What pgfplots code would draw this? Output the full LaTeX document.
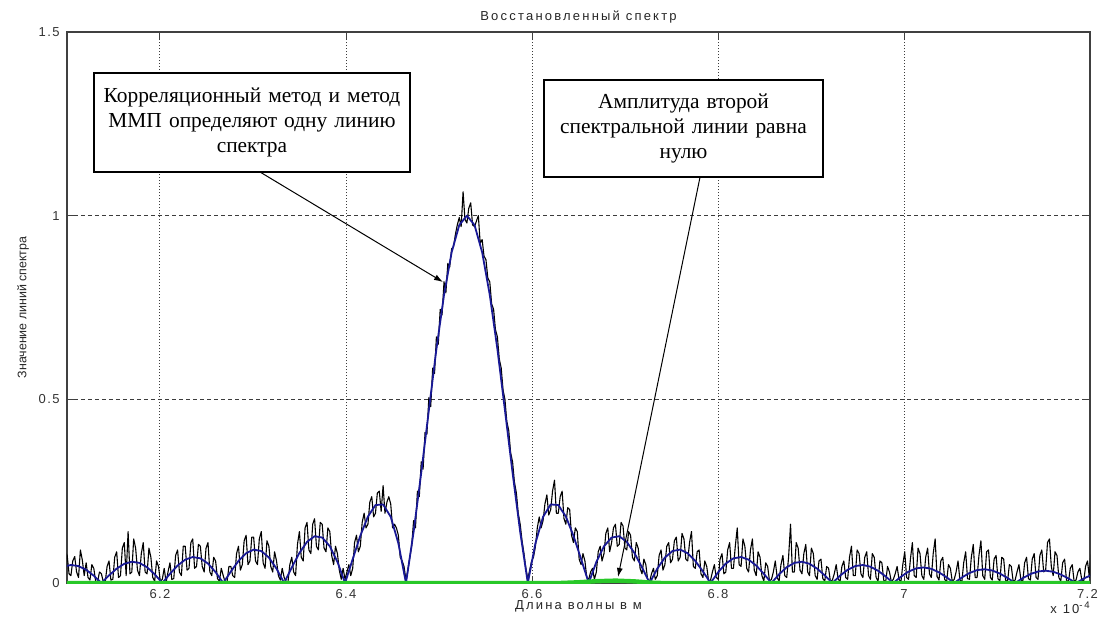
\documentclass[border=0pt]{standalone}
\usepackage{fontspec}
\setmainfont{Liberation Sans}
\newfontfamily\mfont[LetterSpace=17]{Liberation Sans}
\newfontfamily\tkfont[LetterSpace=11]{Liberation Sans}
\newfontfamily\tfont{Liberation Serif}
\usepackage{pgfplots}
\pgfplotsset{compat=1.18}
\usetikzlibrary{arrows.meta}
\definecolor{mblue}{RGB}{25,25,150}
\definecolor{mgreen}{RGB}{40,200,40}
\definecolor{mgrid}{RGB}{60,60,60}

\pgfplotstableread{
x y
6.0961 0.0444
6.1042 0.0490
6.1124 0.0461
6.1206 0.0360
6.1288 0.0199
6.1370 0.0000
6.1452 0.0207
6.1534 0.0391
6.1616 0.0523
6.1697 0.0579
6.1779 0.0547
6.1861 0.0429
6.1943 0.0238
6.2025 0.0000
6.2107 0.0250
6.2189 0.0474
6.2271 0.0636
6.2352 0.0707
6.2434 0.0672
6.2516 0.0530
6.2598 0.0295
6.2680 0.0000
6.2762 0.0314
6.2844 0.0600
6.2926 0.0811
6.3007 0.0909
6.3089 0.0871
6.3171 0.0693
6.3253 0.0390
6.3335 0.0000
6.3417 0.0424
6.3499 0.0818
6.3581 0.1120
6.3662 0.1273
6.3744 0.1238
6.3826 0.1000
6.3908 0.0573
6.3990 0.0000
6.4072 0.0650
6.4154 0.1286
6.4236 0.1810
6.4317 0.2122
6.4399 0.2139
6.4481 0.1801
6.4563 0.1083
6.4645 0.0000
6.4727 0.1392
6.4809 0.3001
6.4891 0.4705
6.4972 0.6366
6.5054 0.7842
6.5136 0.9003
6.5218 0.9745
6.5300 1.0000
6.5382 0.9745
6.5464 0.9003
6.5546 0.7842
6.5628 0.6366
6.5709 0.4705
6.5791 0.3001
6.5873 0.1392
6.5955 0.0000
6.6037 0.1083
6.6119 0.1801
6.6201 0.2139
6.6283 0.2122
6.6364 0.1810
6.6446 0.1286
6.6528 0.0650
6.6610 0.0000
6.6692 0.0573
6.6774 0.1000
6.6856 0.1238
6.6938 0.1273
6.7019 0.1120
6.7101 0.0818
6.7183 0.0424
6.7265 0.0000
6.7347 0.0390
6.7429 0.0693
6.7511 0.0871
6.7593 0.0909
6.7674 0.0811
6.7756 0.0600
6.7838 0.0314
6.7920 0.0000
6.8002 0.0295
6.8084 0.0530
6.8166 0.0672
6.8248 0.0707
6.8329 0.0636
6.8411 0.0474
6.8493 0.0250
6.8575 0.0000
6.8657 0.0238
6.8739 0.0429
6.8821 0.0547
6.8903 0.0579
6.8984 0.0523
6.9066 0.0391
6.9148 0.0207
6.9230 0.0000
6.9312 0.0199
6.9394 0.0360
6.9476 0.0461
6.9558 0.0490
6.9639 0.0444
6.9721 0.0333
6.9803 0.0177
6.9885 0.0000
6.9967 0.0171
7.0049 0.0310
7.0131 0.0399
7.0213 0.0424
7.0294 0.0386
7.0376 0.0290
7.0458 0.0155
7.0540 0.0000
7.0622 0.0150
7.0704 0.0273
7.0786 0.0351
7.0868 0.0374
7.0949 0.0341
7.1031 0.0257
7.1113 0.0137
7.1195 0.0000
7.1277 0.0133
7.1359 0.0243
7.1441 0.0314
7.1523 0.0335
7.1604 0.0306
7.1686 0.0231
7.1768 0.0123
7.1850 0.0000
7.1932 0.0120
7.2014 0.0220
}\bluetab

\pgfplotstableread{
x y
6.0961 .030
6.0981 .085
6.1002 .075
6.1022 .025
6.1042 .020
6.1062 .060
6.1083 .072
6.1103 .030
6.1124 .015
6.1144 .090
6.1165 .062
6.1185 .020
6.1206 .055
6.1226 .015
6.1247 .008
6.1267 .050
6.1288 .040
6.1308 .005
6.1329 .003
6.1349 .030
6.1370 .025
6.1390 .004
6.1411 .002
6.1431 .045
6.1452 .060
6.1472 .008
6.1493 .010
6.1513 .070
6.1534 .085
6.1554 .015
6.1575 .020
6.1595 .095
6.1616 .110
6.1636 .020
6.1657 .140
6.1677 .025
6.1697 .030
6.1717 .120
6.1738 .095
6.1758 .035
6.1779 .020
6.1799 .080
6.1820 .110
6.1840 .030
6.1861 .025
6.1881 .095
6.1902 .070
6.1922 .015
6.1943 .005
6.1963 .060
6.1984 .045
6.2004 .004
6.2025 .010
6.2045 .040
6.2066 .002
6.2086 .030
6.2107 .055
6.2127 .010
6.2148 .012
6.2168 .075
6.2189 .090
6.2209 .030
6.2230 .020
6.2250 .100
6.2271 .100
6.2291 .035
6.2312 .040
6.2332 .110
6.2352 .120
6.2372 .040
6.2393 .045
6.2413 .105
6.2434 .100
6.2454 .045
6.2475 .030
6.2495 .095
6.2516 .110
6.2536 .030
6.2557 .020
6.2577 .070
6.2598 .060
6.2618 .012
6.2639 .005
6.2659 .040
6.2680 .020
6.2700 .003
6.2721 .003
6.2741 .045
6.2762 .045
6.2782 .020
6.2803 .015
6.2823 .080
6.2844 .100
6.2864 .035
6.2885 .050
6.2905 .115
6.2926 .130
6.2946 .050
6.2967 .060
6.2987 .125
6.3007 .125
6.3027 .060
6.3048 .050
6.3068 .120
6.3089 .140
6.3109 .055
6.3130 .040
6.3150 .115
6.3171 .100
6.3191 .045
6.3212 .030
6.3232 .085
6.3253 .060
6.3273 .020
6.3294 .008
6.3314 .040
6.3335 .015
6.3355 .004
6.3376 .002
6.3396 .050
6.3417 .070
6.3437 .030
6.3458 .020
6.3478 .105
6.3499 .140
6.3519 .070
6.3540 .060
6.3560 .150
6.3581 .165
6.3601 .090
6.3622 .080
6.3642 .160
6.3662 .175
6.3682 .100
6.3703 .090
6.3723 .165
6.3744 .160
6.3764 .095
6.3785 .085
6.3805 .150
6.3826 .140
6.3846 .075
6.3867 .050
6.3887 .100
6.3908 .080
6.3928 .035
6.3949 .010
6.3969 .040
6.3990 .010
6.4010 .030
6.4031 .050
6.4051 .020
6.4072 .040
6.4092 .110
6.4113 .130
6.4133 .085
6.4154 .100
6.4174 .165
6.4195 .190
6.4215 .150
6.4236 .160
6.4256 .220
6.4277 .235
6.4297 .180
6.4317 .190
6.4337 .245
6.4358 .250
6.4378 .195
6.4399 .265
6.4419 .190
6.4440 .220
6.4460 .235
6.4481 .215
6.4501 .150
6.4522 .160
6.4542 .150
6.4563 .130
6.4583 .070
6.4604 .060
6.4624 .045
6.4645 .008
6.4665 .035
6.4686 .070
6.4706 .100
6.4727 .170
6.4747 .150
6.4768 .250
6.4788 .235
6.4809 .330
6.4829 .310
6.4850 .410
6.4870 .405
6.4891 .505
6.4911 .480
6.4932 .585
6.4952 .570
6.4972 .670
6.4992 .650
6.5013 .745
6.5033 .730
6.5054 .820
6.5074 .790
6.5095 .870
6.5115 .860
6.5136 .910
6.5156 .915
6.5177 .950
6.5197 .975
6.5218 .995
6.5238 .970
6.5259 1.065
6.5279 .990
6.5300 .980
6.5320 1.020
6.5341 1.035
6.5361 .975
6.5382 .970
6.5402 .985
6.5423 1.000
6.5443 .925
6.5464 .935
6.5484 .890
6.5505 .880
6.5525 .830
6.5546 .820
6.5566 .760
6.5587 .745
6.5607 .690
6.5628 .670
6.5648 .610
6.5669 .585
6.5689 .525
6.5709 .500
6.5729 .440
6.5750 .415
6.5770 .355
6.5791 .330
6.5811 .275
6.5832 .245
6.5852 .190
6.5873 .160
6.5893 .115
6.5914 .080
6.5934 .040
6.5955 .010
6.5975 .035
6.5996 .060
6.6016 .070
6.6037 .100
6.6057 .150
6.6078 .180
6.6098 .150
6.6119 .170
6.6139 .215
6.6160 .240
6.6180 .185
6.6201 .200
6.6221 .250
6.6242 .280
6.6262 .190
6.6283 .190
6.6303 .235
6.6324 .250
6.6344 .175
6.6364 .160
6.6384 .205
6.6405 .200
6.6425 .130
6.6446 .110
6.6466 .150
6.6487 .140
6.6507 .065
6.6528 .050
6.6548 .080
6.6569 .060
6.6589 .015
6.6610 .010
6.6630 .030
6.6651 .040
6.6671 .010
6.6692 .030
6.6712 .085
6.6733 .100
6.6753 .060
6.6774 .080
6.6794 .135
6.6815 .150
6.6835 .085
6.6856 .110
6.6876 .150
6.6897 .160
6.6917 .100
6.6938 .105
6.6958 .165
6.6979 .155
6.6999 .095
6.7019 .090
6.7039 .140
6.7060 .130
6.7080 .070
6.7101 .060
6.7121 .110
6.7142 .095
6.7162 .040
6.7183 .025
6.7203 .065
6.7224 .050
6.7244 .008
6.7265 .005
6.7285 .025
6.7306 .040
6.7326 .010
6.7347 .020
6.7367 .075
6.7388 .090
6.7408 .035
6.7429 .050
6.7449 .100
6.7470 .110
6.7490 .055
6.7511 .065
6.7531 .115
6.7552 .125
6.7572 .060
6.7593 .070
6.7613 .135
6.7634 .120
6.7654 .065
6.7674 .060
6.7694 .110
6.7715 .140
6.7735 .045
6.7756 .040
6.7776 .085
6.7797 .090
6.7817 .025
6.7838 .015
6.7858 .060
6.7879 .045
6.7899 .005
6.7920 .008
6.7940 .030
6.7961 .050
6.7981 .015
6.8002 .010
6.8022 .065
6.8043 .080
6.8063 .025
6.8084 .030
6.8104 .090
6.8125 .110
6.8145 .040
6.8166 .040
6.8186 .100
6.8207 .150
6.8227 .050
6.8248 .045
6.8268 .120
6.8289 .100
6.8309 .040
6.8329 .030
6.8349 .090
6.8370 .120
6.8390 .035
6.8411 .020
6.8431 .085
6.8452 .070
6.8472 .020
6.8493 .005
6.8513 .055
6.8534 .045
6.8554 .005
6.8575 .010
6.8595 .030
6.8616 .060
6.8636 .015
6.8657 .005
6.8677 .050
6.8698 .075
6.8718 .020
6.8739 .015
6.8759 .070
6.8780 .160
6.8800 .030
6.8821 .030
6.8841 .110
6.8862 .095
6.8882 .035
6.8903 .025
6.8923 .080
6.8944 .105
6.8964 .030
6.8984 .020
6.9004 .095
6.9025 .080
6.9045 .020
6.9066 .010
6.9086 .060
6.9107 .065
6.9127 .012
6.9148 .005
6.9168 .045
6.9189 .040
6.9209 .004
6.9230 .008
6.9250 .025
6.9271 .050
6.9291 .012
6.9312 .003
6.9332 .045
6.9353 .060
6.9373 .015
6.9394 .010
6.9414 .070
6.9435 .100
6.9455 .020
6.9476 .020
6.9496 .090
6.9517 .080
6.9537 .025
6.9558 .015
6.9578 .070
6.9599 .085
6.9619 .020
6.9639 .010
6.9659 .080
6.9680 .070
6.9700 .015
6.9721 .005
6.9741 .060
6.9762 .055
6.9782 .008
6.9803 .003
6.9823 .045
6.9844 .030
6.9864 .003
6.9885 .010
6.9905 .025
6.9926 .045
6.9946 .010
6.9967 .003
6.9987 .050
7.0008 .085
7.0028 .015
7.0049 .010
7.0069 .065
7.0090 .110
7.0110 .020
7.0131 .015
7.0151 .095
7.0172 .080
7.0192 .020
7.0213 .010
7.0233 .070
7.0254 .095
7.0274 .025
7.0294 .015
7.0314 .080
7.0335 .120
7.0355 .018
7.0376 .008
7.0396 .060
7.0417 .070
7.0437 .010
7.0458 .003
7.0478 .050
7.0499 .040
7.0519 .004
7.0540 .010
7.0560 .030
7.0581 .060
7.0601 .008
7.0622 .003
7.0642 .055
7.0663 .085
7.0683 .012
7.0704 .010
7.0724 .070
7.0745 .105
7.0765 .015
7.0786 .015
7.0806 .075
7.0827 .115
7.0847 .020
7.0868 .010
7.0888 .085
7.0909 .090
7.0929 .015
7.0949 .008
7.0969 .065
7.0990 .075
7.1010 .012
7.1031 .005
7.1051 .070
7.1072 .065
7.1092 .008
7.1113 .003
7.1133 .050
7.1154 .045
7.1174 .004
7.1195 .008
7.1215 .030
7.1236 .050
7.1256 .010
7.1277 .003
7.1297 .055
7.1318 .070
7.1338 .012
7.1359 .008
7.1379 .065
7.1400 .080
7.1420 .015
7.1441 .010
7.1461 .075
7.1482 .090
7.1502 .030
7.1523 .035
7.1543 .110
7.1564 .120
7.1584 .045
7.1604 .020
7.1624 .085
7.1645 .075
7.1665 .015
7.1686 .005
7.1706 .055
7.1727 .065
7.1747 .008
7.1768 .003
7.1788 .040
7.1809 .050
7.1829 .005
7.1850 .008
7.1870 .030
7.1891 .040
7.1911 .010
7.1932 .003
7.1952 .045
7.1973 .060
7.1993 .015
7.2014 .100
}\blacktab

\pgfplotstableread{
x y
6.0900 0.0000
6.6300 0.0000
6.6500 0.0020
6.6700 0.0050
6.6900 0.0065
6.7100 0.0045
6.7280 0.0010
6.7400 0.0000
7.2100 0.0000
}\greentab

\begin{document}
\begin{tikzpicture}
\begin{axis}[
  name=ax,
  at={(0,0)}, anchor=south west,
  scale only axis, width=511.5pt, height=275.5pt,
  xmin=6.1, xmax=7.2, ymin=0, ymax=1.5,
  xtick={6.2,6.4,6.6,6.8,7,7.2},
  xticklabels={6.2,6.4,6.6,6.8,7,7.2\kern2.5pt},
  ytick={0,0.5,1,1.5},
  yticklabels={0,0.5,1,1.5},
  tick align=inside,
  major tick length=3.5pt,
  tick style={black!75, line width=0.5pt},
  axis line style={draw=black!75, line width=0.7pt},
  xmajorgrids, ymajorgrids,
  x grid style={mgrid, line width=0.5pt, dash pattern=on 0.6pt off 0.9pt},
  y grid style={mgrid, line width=0.5pt, dash pattern=on 2pt off 1.5pt},
  ticklabel style={font=\tkfont\fontsize{6.5}{7.5}\selectfont, text=black!80},
  xticklabel style={anchor=base, yshift=-7.5pt},
  yticklabel style={anchor=east, inner sep=0pt, xshift=-3.5pt},
  title={Восстановленный спектр},
  title style={font=\mfont\fontsize{6.5}{7.5}\selectfont, text=black!85, at={(axis description cs:0.5,1)}, anchor=base},
  xlabel={Длина волны в м},
  xlabel style={font=\mfont\fontsize{6.5}{7.5}\selectfont, text=black!85, at={(axis description cs:0.5,0)}, anchor=base, yshift=-13pt},
  ylabel={Значение линий спектра},
  ylabel style={font=\fontsize{6.2}{7}\selectfont, text=black!85, at={(axis description cs:-0.043,0.5)}, anchor=center},
]
\addplot[black, line width=0.55pt, line join=round] table[x=x,y=y] {\blacktab};
\addplot[mblue, line width=0.9pt, line join=round] table[x=x,y=y] {\bluetab};
\addplot[mgreen, line width=2.2pt] table[x=x,y=y] {\greentab};

\node[draw=black, line width=0.7pt, fill=white, minimum width=158pt, minimum height=49.5pt,
      text width=150pt, align=center, inner sep=0pt,
      font=\tfont\fontsize{10.7}{12.3}\selectfont]
  at (axis cs:6.2989,1.2536) {Корреляционный метод и метод\\ММП определяют одну линию\\спектра};
\node[draw=black, line width=0.7pt, fill=white, minimum width=139.5pt, minimum height=48.5pt,
      text width=135pt, align=center, inner sep=0pt,
      font=\tfont\fontsize{10.7}{12.3}\selectfont]
  at (axis cs:6.7629,1.2373) {Амплитуда второй\\спектральной линии равна\\нулю};
\draw[black, line width=0.5pt, -{Latex[length=4.5pt,width=3pt]}] (axis cs:6.3075,1.1189) -- (axis cs:6.5043,0.8194);
\draw[black, line width=0.5pt, -{Latex[length=4.5pt,width=3pt]}] (axis cs:6.7807,1.1053) -- (axis cs:6.6925,0.0163);
\end{axis}
\node[anchor=base east, inner sep=0pt, font=\mfont\fontsize{6.5}{7.5}\selectfont, text=black!85]
  at ([yshift=-15pt]ax.south east) {x 10\raisebox{2.5pt}{\fontsize{4.8}{5}\selectfont -4}};
\pgfresetboundingbox
\path[use as bounding box] (-33.5pt,-17pt) rectangle (516pt,291.5pt);
\end{tikzpicture}
\end{document}
